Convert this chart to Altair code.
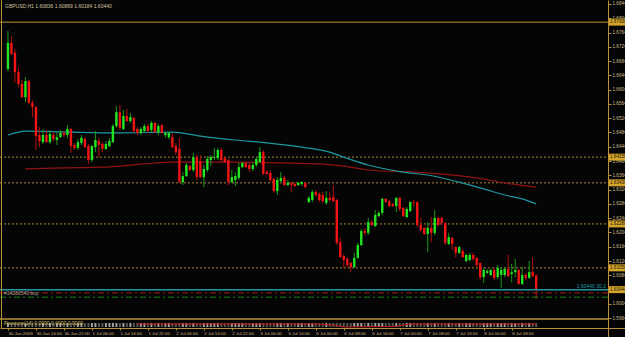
import json
import altair as alt
import pandas as pd

# ---------------- data (GBPUSD, H1) ----------------
opens = [1.6662,1.6735,1.6707,1.6653,1.6620,1.6583,1.6628,1.6567,1.6555,1.6477,
         1.6457,1.6477,1.6457,1.6477,1.6463,1.6471,1.6483,1.6477,1.6494,1.6449,
         1.6441,1.6455,1.6466,1.6446,1.6407,1.6443,1.6460,1.6452,1.6438,1.6446,
         1.6457,1.6502,1.6541,1.6494,1.6530,1.6516,1.6525,1.6494,1.6483,1.6488,
         1.6502,1.6491,1.6511,1.6485,1.6505,1.6477,1.6471,1.6471,1.6446,1.6438,
         1.6345,1.6362,1.6390,1.6379,1.6415,1.6404,1.6359,1.6379,1.6407,1.6413,
         1.6413,1.6435,1.6413,1.6407,1.6345,1.6351,1.6357,1.6387,1.6399,1.6393,
         1.6382,1.6393,1.6401,1.6429,1.6373,1.6371,1.6354,1.6320,1.6348,1.6357,
         1.6337,1.6343,1.6340,1.6337,1.6340,1.6343,1.6289,1.6295,1.6317,1.6312,
         1.6309,1.6287,1.6301,1.6303,1.6295,1.6177,1.6138,1.6130,1.6119,1.6107,
         1.6133,1.6169,1.6208,1.6203,1.6233,1.6222,1.6250,1.6259,1.6298,1.6292,
         1.6284,1.6278,1.6301,1.6273,1.6247,1.6264,1.6289,1.6289,1.6225,1.6217,
         1.6200,1.6217,1.6203,1.6245,1.6245,1.6231,1.6172,1.6189,1.6163,1.6147,
         1.6152,1.6124,1.6127,1.6141,1.6133,1.6119,1.6079,1.6091,1.6085,1.6099,
         1.6079,1.6085,1.6085,1.6102,1.6088,1.6093,1.6099,1.6060,1.6085,1.6077,
         1.6093,1.60836]
highs = [1.6768,1.6754,1.6718,1.6667,1.6631,1.6639,1.6631,1.6575,1.6558,1.6499,
         1.6494,1.6491,1.6491,1.6485,1.6485,1.6491,1.6488,1.6505,1.6497,1.6455,
         1.6466,1.6477,1.6471,1.6452,1.6449,1.6488,1.6469,1.6457,1.6460,1.6469,
         1.6508,1.6558,1.6561,1.6547,1.6550,1.6539,1.6527,1.6499,1.6499,1.6508,
         1.6508,1.6516,1.6513,1.6508,1.6508,1.6485,1.6485,1.6483,1.6455,1.6469,
         1.6373,1.6399,1.6393,1.6427,1.6421,1.6421,1.6393,1.6418,1.6421,1.6441,
         1.6441,1.6441,1.6415,1.6410,1.6379,1.6373,1.6399,1.6401,1.6401,1.6399,
         1.6401,1.6415,1.6443,1.6435,1.6379,1.6379,1.6357,1.6359,1.6373,1.6362,
         1.6351,1.6345,1.6345,1.6345,1.6348,1.6345,1.6306,1.6323,1.6323,1.6317,
         1.6317,1.6320,1.6317,1.6337,1.6298,1.6189,1.6144,1.6135,1.6121,1.6147,
         1.6175,1.6214,1.6217,1.6245,1.6239,1.6267,1.6264,1.6301,1.6301,1.6295,
         1.6287,1.6303,1.6303,1.6275,1.6275,1.6292,1.6295,1.6292,1.6245,1.6219,
         1.6233,1.6247,1.6267,1.6247,1.6247,1.6233,1.6203,1.6191,1.6166,1.6166,
         1.6158,1.6144,1.6147,1.6147,1.6135,1.6119,1.6105,1.6102,1.6102,1.6105,
         1.6113,1.6107,1.6107,1.6141,1.6116,1.6130,1.6102,1.6107,1.6091,1.6124,
         1.6135,1.60869]
lows = [1.6656,1.6701,1.6623,1.6611,1.6581,1.6569,1.6564,1.6527,1.6435,1.6443,
        1.6452,1.6455,1.6452,1.6460,1.6449,1.6469,1.6471,1.6469,1.6427,1.6435,
        1.6435,1.6449,1.6441,1.6396,1.6401,1.6429,1.6415,1.6429,1.6435,1.6443,
        1.6455,1.6497,1.6491,1.6491,1.6513,1.6511,1.6485,1.6477,1.6477,1.6485,
        1.6483,1.6485,1.6483,1.6477,1.6480,1.6469,1.6466,1.6441,1.6421,1.6343,
        1.6337,1.6359,1.6376,1.6373,1.6351,1.6357,1.6331,1.6373,1.6390,1.6407,
        1.6407,1.6401,1.6399,1.6337,1.6343,1.6334,1.6351,1.6385,1.6385,1.6373,
        1.6376,1.6387,1.6399,1.6365,1.6365,1.6345,1.6315,1.6309,1.6345,1.6334,
        1.6334,1.6317,1.6331,1.6334,1.6334,1.6329,1.6287,1.6289,1.6303,1.6289,
        1.6287,1.6281,1.6289,1.6289,1.6169,1.6133,1.6105,1.6107,1.6093,1.6105,
        1.6130,1.6166,1.6197,1.6197,1.6222,1.6219,1.6247,1.6253,1.6287,1.6275,
        1.6275,1.6261,1.6264,1.6247,1.6245,1.6261,1.6275,1.6219,1.6205,1.6197,
        1.6149,1.6177,1.6197,1.6222,1.6225,1.6169,1.6169,1.6155,1.6135,1.6144,
        1.6133,1.6121,1.6124,1.6124,1.6107,1.6071,1.6063,1.6088,1.6082,1.6071,
        1.6074,1.6049,1.6079,1.6079,1.6065,1.6079,1.6057,1.6057,1.6071,1.6074,
        1.6079,1.60184]
closes = [1.6735,1.6704,1.6653,1.6620,1.6583,1.6628,1.6567,1.6555,1.6474,1.6460,
          1.6477,1.6457,1.6480,1.6466,1.6471,1.6483,1.6477,1.6494,1.6446,1.6441,
          1.6457,1.6469,1.6443,1.6407,1.6446,1.6463,1.6449,1.6438,1.6452,1.6460,
          1.6502,1.6541,1.6497,1.6530,1.6516,1.6527,1.6488,1.6483,1.6494,1.6502,
          1.6488,1.6511,1.6485,1.6502,1.6483,1.6483,1.6483,1.6443,1.6429,1.6345,
          1.6362,1.6393,1.6379,1.6415,1.6359,1.6359,1.6382,1.6410,1.6415,1.6415,
          1.6435,1.6407,1.6401,1.6345,1.6359,1.6362,1.6387,1.6399,1.6387,1.6382,
          1.6393,1.6410,1.6429,1.6368,1.6368,1.6351,1.6320,1.6351,1.6357,1.6337,
          1.6343,1.6337,1.6334,1.6343,1.6345,1.6331,1.6301,1.6317,1.6309,1.6295,
          1.6292,1.6301,1.6295,1.6292,1.6175,1.6135,1.6127,1.6113,1.6107,1.6133,
          1.6169,1.6208,1.6203,1.6233,1.6225,1.6253,1.6259,1.6298,1.6289,1.6278,
          1.6278,1.6301,1.6270,1.6250,1.6270,1.6289,1.6287,1.6225,1.6211,1.6200,
          1.6217,1.6203,1.6245,1.6225,1.6231,1.6175,1.6191,1.6172,1.6147,1.6163,
          1.6135,1.6141,1.6141,1.6130,1.6113,1.6079,1.6099,1.6096,1.6099,1.6077,
          1.6105,1.6099,1.6102,1.6082,1.6093,1.6099,1.6060,1.6085,1.6077,1.6093,
          1.6082,1.60440]

# moving averages, read at sample bars
teal_bars = [0, 5, 18, 32, 47, 55, 65, 74, 84, 92, 96, 103, 113, 120, 129, 136, 142, 147, 151]
teal_vals = [1.6477, 1.6488, 1.6485, 1.6483, 1.6485, 1.6474, 1.6463, 1.6455, 1.6443, 1.6429,
             1.6415, 1.6393, 1.6373, 1.6365, 1.6345, 1.6326, 1.6309, 1.6298, 1.6284]
mared_bars = [5, 16, 27, 39, 47, 64, 78, 89, 96, 103, 120, 134, 142, 151]
mared_vals = [1.6382, 1.6385, 1.6387, 1.6396, 1.6401, 1.6401, 1.6399, 1.6396, 1.6390, 1.6379,
              1.6371, 1.6357, 1.6343, 1.6331]

# sub-window indicator line
sub_bars = [37, 88, 93, 96, 110, 115, 151]
sub_vals = [5, 5, 4, 2, 2.5, 5, 5]

time_tick_bars = [0, 8, 16, 24, 32, 40, 48, 56, 64, 72, 80, 88, 96, 104, 112, 120, 128, 136, 144]
time_labels = ["30 Jun 2009", "30 Jun 14:00", "30 Jun 22:00", "1 Jul 06:00", "1 Jul 14:00",
               "1 Jul 22:00", "2 Jul 06:00", "2 Jul 14:00", "2 Jul 22:00", "3 Jul 06:00",
               "3 Jul 14:00", "6 Jul 00:00", "6 Jul 08:00", "6 Jul 16:00", "7 Jul 00:00",
               "7 Jul 08:00", "7 Jul 16:00", "8 Jul 00:00", "8 Jul 08:00"]
price_ticks = [1.6844, 1.6804, 1.6764, 1.6724, 1.6684, 1.6644, 1.6604, 1.6564, 1.6524, 1.6484,
               1.6444, 1.6404, 1.6364, 1.6324, 1.6284, 1.6244, 1.6204, 1.6164, 1.6124, 1.6084,
               1.6044, 1.6004, 1.5964]

solid_levels = [1.6793]
dotted_levels = [1.6415, 1.6343, 1.6228, 1.6105]
current_price = [1.6044]
current_text = ["1.60440 30.2"]
stop_level = [1.6035]
order_level = [1.6023]
order_text = ["#14030540 buy"]
box_levels = [1.6793, 1.6415, 1.6343, 1.6228, 1.6105, 1.6044]
header_text = ["GBPUSD,H1  1.60836 1.60869 1.60184 1.60440"]
sub_title = ["Pressure(14)  0.0000  0.0000  0.0000"]

# ---------------- styling ----------------
BG = "#060505"
GOLD = "#B8913A"
DOT = "#A8863C"
LABEL = "#CDBB8C"
UP = "#22E622"
DN = "#F01414"
UPW = "#1A9A1A"
DNW = "#B01010"
TEAL = "#1E98A2"
MARED = "#8E1414"
FONT = "Liberation Sans"

xscale = alt.Scale(domain=[-0.8439, 174.96], nice=False, zero=False)
yscale = alt.Scale(domain=[1.59114, 1.6855], nice=False, zero=False)

xaxis = alt.Axis(values=time_tick_bars, labelExpr=json.dumps(time_labels) + "[round(datum.value/8)]",
                 orient="bottom", offset=-9, grid=False, domainColor=GOLD, tickColor=GOLD,
                 tickSize=2, labelColor=LABEL, labelFontSize=4.4, labelFont=FONT, labelAlign="left",
                 labelBaseline="top", labelPadding=1, labelOverlap=False, labelFlush=False,
                 labelBound=False, title=None)
yaxis = alt.Axis(values=price_ticks, format=".5f", orient="right", offset=-17, grid=False,
                 domainColor=GOLD, tickColor=GOLD, tickSize=3, labelColor=LABEL, labelFontSize=4.6,
                 labelFont=FONT, labelPadding=1, labelOverlap=False, labelFlush=False,
                 labelBound=False, title=None)


def X(field):
    return alt.X(field, type="quantitative", scale=xscale, axis=xaxis)


def Y(field):
    return alt.Y(field, type="quantitative", scale=yscale, axis=yaxis)


df = pd.DataFrame({"bar": list(range(len(opens))), "o": opens, "h": highs, "l": lows, "c": closes})
base = alt.Chart(df)
is_up = "datum.c >= datum.o"
is_dn = "datum.c < datum.o"

wick_up = base.transform_filter(is_up).mark_rule(color=UPW, strokeWidth=1).encode(
    x=X("bar"), y=Y("l"), y2="h")
wick_dn = base.transform_filter(is_dn).mark_rule(color=DNW, strokeWidth=1).encode(
    x=X("bar"), y=Y("l"), y2="h")
body_up = base.transform_filter(is_up).mark_bar(color=UP, size=2.4).encode(
    x=X("bar"), y=Y("o"), y2="c")
body_dn = base.transform_filter(is_dn).mark_bar(color=DN, size=2.4).encode(
    x=X("bar"), y=Y("o"), y2="c")

teal_line = alt.Chart(pd.DataFrame({"bar": teal_bars, "v": teal_vals})).mark_line(
    color=TEAL, strokeWidth=1.2, interpolate="monotone").encode(x=X("bar"), y=Y("v"))
red_line = alt.Chart(pd.DataFrame({"bar": mared_bars, "v": mared_vals})).mark_line(
    color=MARED, strokeWidth=1.2, interpolate="monotone").encode(x=X("bar"), y=Y("v"))

solid_rule = alt.Chart(pd.DataFrame({"p": solid_levels})).mark_rule(
    color=GOLD, strokeWidth=1).encode(y=Y("p"), x=alt.value(0), x2=alt.value(608))
dotted_rule = alt.Chart(pd.DataFrame({"p": dotted_levels})).mark_rule(
    color=DOT, strokeWidth=1, strokeDash=[2, 2]).encode(y=Y("p"), x=alt.value(0), x2=alt.value(608))
cur_rule = alt.Chart(pd.DataFrame({"p": current_price, "t": current_text})).mark_rule(
    color=TEAL, strokeWidth=1.5).encode(y=Y("p"), x=alt.value(0), x2=alt.value(608))
cur_label = alt.Chart(pd.DataFrame({"p": current_price, "t": current_text})).mark_text(
    color=TEAL, fontSize=5, font=FONT, align="right", baseline="bottom", dy=-1).encode(
    y=Y("p"), x=alt.value(606), text="t:N")
stop_rule = alt.Chart(pd.DataFrame({"p": stop_level})).mark_rule(
    color="#B01818", strokeWidth=1, strokeDash=[6, 3, 2, 3]).encode(
    y=Y("p"), x=alt.value(0), x2=alt.value(608))
order_rule = alt.Chart(pd.DataFrame({"p": order_level})).mark_rule(
    color="#118A11", strokeWidth=1, strokeDash=[6, 3, 2, 3]).encode(
    y=Y("p"), x=alt.value(0), x2=alt.value(608))
order_label = alt.Chart(pd.DataFrame({"p": stop_level, "t": order_text})).mark_text(
    color="#A8A8A8", fontSize=5, font=FONT, align="left", baseline="middle").encode(
    y=Y("p"), x=alt.value(4), text="t:N")

boxes = alt.Chart(pd.DataFrame({"p": box_levels})).transform_calculate(
    lo="datum.p - 0.00098", hi="datum.p + 0.00098").mark_rect(color="#D4A52A").encode(
    y=Y("lo"), y2="hi", x=alt.value(609), x2=alt.value(625))
box_text = alt.Chart(pd.DataFrame({"p": box_levels})).mark_text(
    color="#1A1408", fontSize=4.6, font=FONT, align="left", baseline="middle").encode(
    y=Y("p"), x=alt.value(610), text=alt.Text("p:Q", format=".5f"))

frame_df = pd.DataFrame({"k": [0]})
left_border = alt.Chart(frame_df).mark_rule(color=GOLD, strokeWidth=1).encode(
    x=alt.value(1.5), y=alt.value(0), y2=alt.value(328))
sub_sep = alt.Chart(frame_df).mark_rule(color=GOLD, strokeWidth=1.5).encode(
    x=alt.value(0), x2=alt.value(608), y=alt.value(319))
header = alt.Chart(pd.DataFrame({"t": header_text})).mark_text(
    color="#CFC3A0", fontSize=5, font=FONT, align="left", baseline="middle").encode(
    x=alt.value(5), y=alt.value(6), text="t:N")

price_group = alt.layer(
    solid_rule, dotted_rule, red_line, teal_line,
    wick_up, wick_dn, body_up, body_dn,
    cur_rule, stop_rule, order_rule, cur_label, order_label,
    boxes, box_text, left_border, sub_sep, header,
)

# sub window
sub_y = alt.Scale(domain=[0, 10], range=[329, 319], nice=False, zero=False)
sub_up = base.transform_filter(is_up).mark_tick(color="#E6E6E6", size=4, thickness=2).encode(
    x=X("bar"), y=alt.value(325))
sub_dn = base.transform_filter(is_dn).mark_tick(color="#7A7A7A", size=4, thickness=2).encode(
    x=X("bar"), y=alt.value(325))
sub_line = alt.Chart(pd.DataFrame({"bar": sub_bars, "v": sub_vals})).mark_line(
    color="#C81414", strokeWidth=1).encode(
    x=X("bar"), y=alt.Y("v:Q", scale=sub_y, axis=None))
sub_label = alt.Chart(pd.DataFrame({"t": sub_title})).mark_text(
    color="#D8C060", fontSize=5, font=FONT, align="left", baseline="middle").encode(
    x=alt.value(4), y=alt.value(323), text="t:N")

sub_group = alt.layer(sub_up, sub_dn, sub_line, sub_label)

chart = alt.layer(price_group, sub_group).resolve_scale(y="independent").properties(
    width=625, height=337, autosize=alt.AutoSizeParams(type="none"), padding=0,
    background=BG,
).configure_view(strokeWidth=0)

chart.save("out.html", embed_options={"renderer": "svg", "actions": False})
